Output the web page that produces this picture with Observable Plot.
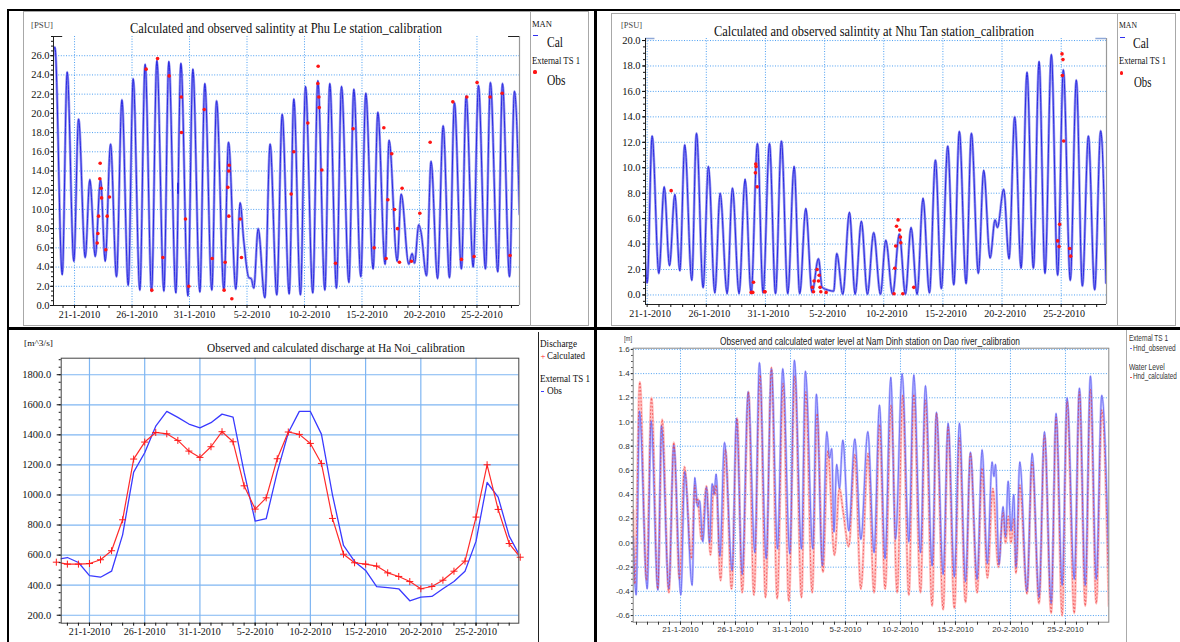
<!DOCTYPE html>
<html>
<head>
<meta charset="utf-8">
<script src="https://cdn.jsdelivr.net/npm/d3@7"></script>
<script src="https://cdn.jsdelivr.net/npm/@observablehq/plot@0.6"></script>
<style>
  html, body { margin: 0; padding: 0; background: #fff; }
  #page { position: relative; width: 1180px; height: 642px; overflow: hidden; background: #fff; }
  .abs { position: absolute; }
  .t { position: absolute; white-space: nowrap; line-height: 1; }
  svg.serif-chart text { font-family: "Liberation Serif", "Times New Roman", serif !important; }
  svg.sans-chart text { font-family: "Liberation Sans", Arial, sans-serif !important; }
</style>
</head>
<body>
<div id="page"></div>
<script>
// All times are in days after 21-1-2010 00:00.

// ---- Phu Le salinity [PSU] ----
const phuLeCalDay = [-1.9, -1.71, -1.07, -0.64, -0.06, 0.35, 0.93, 1.33, 1.80, 2.26, 2.67, 3.13, 3.65, 4.12, 4.67, 5.10, 5.68, 6.14, 6.70, 7.16, 7.77, 8.20, 8.81, 9.25, 9.86, 10.29, 10.90, 11.33, 11.94, 12.35, 12.99, 13.39, 14.03, 14.40, 14.72, 15.16, 15.36, 15.59, 15.97, 16.55, 17.01, 17.59, 18.06, 18.67, 19.07, 19.65, 20.09, 20.72, 21.16, 21.77, 22.20, 22.78, 23.22, 23.86, 24.29, 24.90, 25.33, 25.97, 26.38, 27.01, 27.36, 28.06, 28.41, 29.07, 29.36, 29.57, 29.94, 30.14, 30.61, 31.01, 31.57, 32.06, 32.61, 33.04, 33.65, 34.06, 34.67, 35.13, 35.74, 36.17, 36.81, 37.22, 37.83, 38.26, 38.70];
const phuLeCalPsu = [25.8, 26.9, 3.2, 24.3, 4.6, 19.4, 5.0, 13.1, 5.1, 13.1, 4.6, 16.8, 3.0, 21.4, 2.1, 23.6, 1.6, 25.1, 1.5, 25.5, 1.5, 25.4, 1.3, 25.2, 1.0, 24.6, 1.4, 23.1, 1.6, 21.3, 1.6, 17.0, 1.7, 10.7, 6.7, 2.9, 2.8, 1.8, 8.0, 0.8, 16.8, 1.1, 19.9, 1.2, 21.5, 1.1, 22.8, 1.3, 23.4, 1.6, 23.1, 1.8, 22.8, 2.4, 22.5, 3.0, 22.1, 3.8, 20.1, 4.3, 17.2, 4.6, 11.6, 4.3, 5.4, 4.4, 8.4, 7.6, 3.1, 15.0, 2.8, 18.7, 2.9, 21.1, 3.8, 21.8, 4.0, 22.9, 3.8, 23.2, 3.5, 23.1, 3.0, 22.3, 9.5];
// short detached piece of the calculated record near 30-1-2010
const phuLeCalPieceDay = [9.0, 9.0];
const phuLeCalPiecePsu = [12.7, 11.7];
const phuLeObsDay = [1.97, 2.03, 2.09, 2.23, 2.20, 2.32, 2.35, 2.72, 2.84, 3.04, 6.23, 6.72, 7.22, 7.68, 8.23, 9.28, 9.30, 9.65, 9.94, 11.28, 11.97, 13.01, 13.10, 13.33, 13.42, 13.45, 13.42, 13.68, 14.41, 14.52, 18.84, 19.07, 20.29, 21.19, 21.16, 21.25, 21.28, 21.51, 22.70, 24.23, 26.06, 26.90, 27.10, 27.25, 27.59, 27.83, 28.09, 28.26, 28.49, 29.30, 30.03, 30.93, 32.90, 33.65, 34.12, 34.75, 35.01, 36.14, 37.19, 37.88];
const phuLeObsPsu = [6.5, 7.5, 9.3, 14.8, 13.2, 12.2, 11.2, 5.8, 9.3, 11.3, 24.6, 1.6, 25.7, 5.0, 23.9, 21.7, 18.0, 9.0, 2.0, 20.4, 4.9, 1.6, 4.5, 12.3, 14.0, 14.6, 9.3, 0.7, 9.0, 5.0, 11.6, 16.0, 19.0, 24.9, 23.1, 21.7, 20.6, 14.1, 4.4, 18.4, 6.0, 18.5, 4.9, 11.0, 15.8, 10.0, 8.0, 4.5, 12.2, 4.6, 9.6, 17.0, 21.2, 4.8, 21.7, 5.1, 23.2, 21.7, 22.1, 5.2];

// ---- Nhu Tan salinity [PSU] ----
const nhuTanCalDay = [-0.34, 0.00, 0.42, 0.99, 1.44, 1.89, 2.34, 2.76, 3.18, 3.77, 4.17, 4.73, 5.18, 5.72, 6.17, 6.76, 7.21, 7.77, 8.28, 8.79, 9.32, 9.80, 10.34, 10.85, 11.35, 11.89, 12.42, 12.90, 13.41, 13.94, 14.48, 14.79, 15.35, 15.77, 16.03, 16.54, 17.10, 17.58, 18.11, 18.62, 19.15, 19.72, 20.17, 20.75, 21.32, 21.83, 22.31, 22.82, 23.32, 23.86, 24.37, 24.87, 25.41, 25.92, 26.39, 26.96, 27.41, 28.00, 28.45, 28.99, 29.41, 29.61, 30.14, 30.59, 31.07, 31.61, 32.11, 32.65, 33.13, 33.63, 34.17, 34.70, 35.18, 35.77, 36.28, 36.79, 37.30, 37.83, 38.34, 38.79];
const nhuTanCalPsu = [9.0, 0.94, 12.5, 1.7, 8.5, 2.3, 7.9, 1.9, 11.8, 1.15, 12.7, 0.58, 10.1, 0.16, 8.0, 0.1, 8.4, 0.1, 9.1, 0.1, 11.9, 0.16, 11.9, 0.1, 12.1, 0.1, 10.1, 0.1, 6.8, 0.2, 2.85, 0.6, 0.37, 0.3, 3.25, 0.05, 6.5, 0.05, 5.8, 0.05, 4.9, 0.05, 4.3, 0.05, 4.8, 0.05, 5.3, 0.05, 7.6, 0.16, 10.6, 0.5, 11.7, 0.8, 12.85, 0.9, 12.7, 1.7, 9.8, 2.9, 5.9, 5.3, 8.3, 2.85, 14.0, 2.1, 17.5, 2.1, 18.35, 1.7, 18.9, 1.55, 17.7, 1.15, 16.9, 0.7, 12.5, 0.4, 12.9, 0.94];
const nhuTanObsDay = [2.03, 8.79, 8.93, 8.99, 9.18, 9.21, 9.15, 9.30, 9.92, 9.97, 13.97, 14.06, 14.11, 14.37, 14.54, 14.48, 14.62, 14.68, 15.13, 20.87, 20.93, 21.01, 21.08, 21.21, 21.35, 21.41, 21.44, 21.61, 22.54, 34.70, 34.82, 34.87, 35.07, 35.15, 35.10, 35.21, 35.72, 35.80];
const nhuTanObsPsu = [8.2, 0.2, 0.2, 1.0, 10.3, 10.1, 9.6, 8.5, 0.25, 0.25, 0.6, 0.25, 1.1, 2.0, 1.55, 1.1, 0.6, 0.25, 0.2, 0.1, 2.1, 3.85, 5.4, 5.9, 5.1, 4.55, 4.1, 0.1, 0.6, 4.25, 3.8, 5.55, 18.95, 18.5, 17.25, 12.1, 3.65, 3.05];

// ---- Ha Noi discharge [m^3/s], daily 18-1-2010 .. 1-3-2010 ----
const haNoiDay = [-3, -2, -1, 0, 1, 2, 3, 4, 5, 6, 7, 8, 9, 10, 11, 12, 13, 14, 15, 16, 17, 18, 19, 20, 21, 22, 23, 24, 25, 26, 27, 28, 29, 30, 31, 32, 33, 34, 35, 36, 37, 38, 39];
const haNoiCalculated = [553, 540, 540, 544, 569, 629, 835, 1239, 1352, 1416, 1407, 1363, 1292, 1250, 1321, 1421, 1354, 1061, 906, 981, 1241, 1419, 1403, 1343, 1210, 844, 606, 549, 540, 527, 482, 458, 424, 376, 391, 433, 493, 560, 853, 1201, 904, 677, 586];
const haNoiObserved = [570, 584, 551, 464, 453, 493, 735, 1152, 1281, 1458, 1556, 1516, 1472, 1447, 1481, 1538, 1518, 1152, 826, 842, 1152, 1414, 1556, 1556, 1405, 1001, 664, 558, 498, 391, 384, 376, 296, 320, 325, 376, 424, 493, 693, 1083, 986, 726, 590];

// ---- Nam Dinh water level [m] ----
const namDinhObsDay = [-4.30, -4.03, -3.73, -3.03, -2.67, -2.06, -1.73, -1.06, -0.61, 0.03, 0.39, 1.06, 1.30, 1.55, 1.73, 2.03, 2.36, 2.64, 2.88, 3.05, 3.24, 3.58, 4.00, 4.70, 5.09, 5.61, 6.15, 6.76, 7.18, 7.79, 8.27, 8.82, 9.30, 9.94, 10.36, 11.00, 11.36, 12.03, 12.36, 12.90, 13.30, 13.55, 13.75, 13.95, 14.20, 14.45, 14.76, 15.30, 15.85, 16.40, 17.03, 17.60, 18.09, 18.60, 19.12, 19.55, 20.15, 20.76, 21.21, 21.82, 22.27, 22.88, 23.27, 23.88, 24.33, 24.90, 25.36, 25.91, 26.36, 26.97, 27.42, 27.90, 28.33, 28.50, 28.64, 28.95, 29.33, 29.55, 29.79, 30.05, 30.30, 30.50, 30.85, 31.50, 31.97, 32.60, 33.09, 33.70, 34.15, 34.70, 35.15, 35.80, 36.27, 36.80, 37.27, 37.80, 38.30, 38.94];
const namDinhObsM = [0.05, -0.43, 1.09, -0.38, 1.01, -0.39, 0.97, -0.38, 0.81, -0.43, 0.59, -0.35, 0.54, 0.30, 0.35, 0.01, 0.46, 0.00, 0.49, 0.40, 0.57, -0.11, 0.83, -0.23, 1.03, -0.26, 1.25, -0.08, 1.49, -0.13, 1.44, -0.05, 1.44, -0.09, 1.51, -0.05, 1.42, -0.05, 1.23, -0.19, 0.92, 0.70, 0.78, 0.09, 0.65, 0.45, 0.85, 0.10, 0.86, 0.03, 0.92, -0.08, 1.14, -0.13, 1.37, 0.03, 1.40, 0.01, 1.39, -0.08, 1.30, -0.19, 1.08, -0.26, 0.99, -0.28, 0.99, -0.32, 0.75, -0.30, 0.77, -0.17, 0.67, 0.55, 0.65, -0.18, 0.30, 0.05, 0.51, 0.10, 0.40, -0.20, 0.67, -0.40, 0.74, -0.45, 0.92, -0.50, 1.07, -0.35, 1.20, -0.30, 1.28, -0.35, 1.38, -0.30, 1.22, -0.20];
const namDinhCalDay = [-4.30, -4.15, -3.70, -3.09, -2.64, -2.06, -1.67, -1.06, -0.61, -0.09, 0.36, 1.00, 1.30, 1.45, 1.55, 1.91, 2.36, 2.73, 3.00, 3.15, 3.24, 3.64, 4.09, 4.64, 5.15, 5.61, 6.18, 6.67, 7.24, 7.73, 8.27, 8.79, 9.33, 9.85, 10.39, 11.00, 11.39, 11.97, 12.42, 12.95, 13.39, 14.00, 14.45, 14.80, 15.30, 15.85, 16.40, 17.05, 17.60, 18.10, 18.60, 19.15, 19.70, 20.20, 20.76, 21.21, 21.82, 22.27, 22.88, 23.27, 23.88, 24.33, 24.90, 25.36, 25.91, 26.36, 26.97, 27.42, 27.90, 28.40, 28.90, 29.33, 29.55, 29.80, 30.05, 30.30, 30.50, 30.85, 31.50, 31.97, 32.60, 33.09, 33.70, 34.15, 34.70, 35.15, 35.80, 36.27, 36.80, 37.27, 37.80, 38.30, 38.94];
const namDinhCalM = [0.27, -0.34, 1.33, -0.31, 1.20, -0.38, 1.02, -0.41, 0.83, -0.30, 0.63, -0.13, 0.48, 0.33, 0.37, 0.03, 0.47, -0.10, 0.47, 0.40, 0.48, -0.31, 0.77, -0.38, 1.03, -0.41, 1.25, -0.43, 1.39, -0.45, 1.45, -0.46, 1.32, -0.48, 1.38, -0.45, 1.25, -0.41, 1.07, -0.24, 0.76, -0.10, 0.45, 0.25, -0.03, 0.73, -0.38, 0.74, -0.41, 0.98, -0.38, 1.14, -0.41, 1.22, -0.43, 1.23, -0.41, 1.18, -0.52, 1.07, -0.55, 0.96, -0.54, 0.87, -0.49, 0.74, -0.41, 0.62, -0.29, 0.45, -0.20, 0.25, 0.00, 0.22, 0.00, 0.20, -0.25, 0.48, -0.42, 0.67, -0.50, 0.89, -0.58, 1.04, -0.60, 1.17, -0.58, 1.25, -0.52, 1.27, -0.50, 1.10, -0.52];

// Labelled date ticks (days after 21-1-2010)
const labelTickDays = [0, 5, 10, 15, 20, 25, 30, 35];

// ---------------------------------------------------------------------------
const page = document.getElementById("page");
const DAY0 = Date.UTC(2010, 0, 21);
const toDate = d => new Date(DAY0 + d * 864e5);
const series = (days, vals) => days.map((d, i) => ({t: toDate(d), v: vals[i]}));
const fmtDate = d3.utcFormat("%-d-%-m-%Y");
const labelTicks = labelTickDays.map(toDate);
const dailyTicks = (a, b) => d3.utcDay.range(toDate(a), toDate(b));

const SERIF = "Liberation Serif";
const SANS = "Liberation Sans";

function box(x, y, w, h, color) {
  const e = document.createElement("div");
  e.className = "abs";
  Object.assign(e.style, {left: x + "px", top: y + "px", width: w + "px", height: h + "px", background: color});
  page.appendChild(e);
  return e;
}
function frameBox(x, y, w, h, color, bw) {
  const e = document.createElement("div");
  e.className = "abs";
  Object.assign(e.style, {left: x + "px", top: y + "px", width: w + "px", height: h + "px",
    border: `${bw}px solid ${color}`, boxSizing: "border-box"});
  page.appendChild(e);
}
function dot(x, y, r, color) {
  const e = box(x - r, y - r, 2 * r, 2 * r, color);
  e.style.borderRadius = "50%";
}
// text placed by left/centre/right edge and vertical centre, optionally squeezed to a width
function label(text, {x, y, size, font = SERIF, color = "#111", anchor = "start", width = null}) {
  const e = document.createElement("span");
  e.className = "t";
  e.textContent = text;
  Object.assign(e.style, {fontSize: size + "px", fontFamily: `"${font}"`, color});
  page.appendChild(e);
  const r = e.getBoundingClientRect();
  const k = width ? width / r.width : 1;
  const w = r.width * k;
  const left = anchor === "middle" ? x - w / 2 : anchor === "end" ? x - w : x;
  Object.assign(e.style, {left: left + "px", top: (y - r.height / 2) + "px",
    transformOrigin: "0 50%", transform: `scaleX(${k})`});
}
function mount(svg, x, y, cls) {
  svg.classList.add(cls);
  svg.style.position = "absolute";
  svg.style.left = x + "px";
  svg.style.top = y + "px";
  page.appendChild(svg);
}

const dottedGrid = {stroke: "#2f8ff0", strokeOpacity: 0.85, strokeWidth: 1, strokeDasharray: "1,1.6"};
const baseStyle = {fontSize: "10px", color: "#111", background: "transparent", overflow: "visible"};

// ---------------- Phu Le ----------------
{
  const x0 = -1.83, x1 = 38.7;
  const cal = series(phuLeCalDay, phuLeCalPsu);
  const piece = series(phuLeCalPieceDay, phuLeCalPiecePsu);
  const obs = series(phuLeObsDay, phuLeObsPsu);
  mount(Plot.plot({
    width: 507, height: 314, marginLeft: 30, marginRight: 11, marginTop: 25, marginBottom: 20,
    style: baseStyle,
    x: {type: "utc", domain: [toDate(x0), toDate(x1)], label: null},
    y: {domain: [0, 28], label: null},
    marks: [
      Plot.gridY(d3.range(2, 27, 2), dottedGrid),
      Plot.gridX(labelTicks, dottedGrid),
      Plot.line(cal, {x: "t", y: "v", curve: "monotone-x", stroke: "#9898f0", strokeWidth: 2.6, clip: true}),
      Plot.line(cal, {x: "t", y: "v", curve: "monotone-x", stroke: "#2a2ae2", strokeWidth: 1, clip: true}),
      Plot.line(piece, {x: "t", y: "v", stroke: "#2a2ae2", strokeWidth: 2}),
      Plot.dot(obs, {x: "t", y: "v", r: 1.8, fill: "#ff1414"}),
      Plot.ruleX([toDate(x1)], {stroke: "#999", strokeWidth: 1.2}),
      Plot.ruleY([28], {x1: toDate(x0), x2: toDate(x0 + 0.8), stroke: "#222"}),
      Plot.ruleY([28], {x1: toDate(x1 - 0.95), x2: toDate(x1), stroke: "#222"}),
      Plot.ruleY([0], {stroke: "#222"}),
      Plot.ruleX([toDate(x0)], {stroke: "#222"}),
      Plot.axisY(d3.range(0, 27, 2), {tickSize: 3, tickPadding: 1, tickFormat: d => d.toFixed(1), label: null, fontSize: 10.5}),
      Plot.axisY(d3.range(0, 28.01, 0.5), {tickSize: 2, tickFormat: () => "", label: null}),
      Plot.axisX(dailyTicks(x0, x1), {tickSize: 3, tickFormat: () => "", label: null}),
      Plot.text(labelTicks, {x: d => d, text: d => fmtDate(d), frameAnchor: "bottom", lineAnchor: "top", dy: 5, dx: 5, fontSize: 10})
    ]
  }), 23, 11, "serif-chart");
}

// ---------------- Nhu Tan ----------------
{
  const x0 = -0.14, x1 = 38.83;
  const cal = series(nhuTanCalDay, nhuTanCalPsu);
  const obs = series(nhuTanObsDay, nhuTanObsPsu);
  mount(Plot.plot({
    width: 506, height: 312, marginLeft: 34, marginRight: 11, marginTop: 25, marginBottom: 21,
    style: baseStyle,
    x: {type: "utc", domain: [toDate(x0), toDate(x1)], label: null},
    y: {domain: [-0.75, 20.16], label: null},
    marks: [
      Plot.gridY(d3.range(0, 20.1, 2), dottedGrid),
      Plot.gridX(labelTicks, dottedGrid),
      Plot.line(cal, {x: "t", y: "v", curve: "monotone-x", stroke: "#9898f0", strokeWidth: 2.6, clip: true}),
      Plot.line(cal, {x: "t", y: "v", curve: "monotone-x", stroke: "#2a2ae2", strokeWidth: 1, clip: true}),
      Plot.dot(obs, {x: "t", y: "v", r: 1.8, fill: "#ff1414"}),
      Plot.ruleX([toDate(x1)], {stroke: "#999", strokeWidth: 1.2}),
      Plot.ruleY([20.16], {x1: toDate(x0), x2: toDate(x0 + 0.8), stroke: "#8fa8d8", strokeWidth: 1.5}),
      Plot.ruleY([20.16], {x1: toDate(x1 - 0.9), x2: toDate(x1), stroke: "#8fa8d8", strokeWidth: 1.5}),
      Plot.ruleY([-0.75], {stroke: "#222"}),
      Plot.ruleX([toDate(x0)], {stroke: "#222"}),
      Plot.axisY(d3.range(0, 20.1, 2), {tickSize: 3, tickPadding: 2, tickFormat: d => d.toFixed(1), label: null, fontSize: 10.5}),
      Plot.axisY(d3.range(-0.5, 20.01, 0.5), {tickSize: 2, tickFormat: () => "", label: null}),
      Plot.axisX(dailyTicks(x0, x1), {tickSize: 3, tickFormat: () => "", label: null}),
      Plot.text(labelTicks, {x: d => d, text: d => fmtDate(d), frameAnchor: "bottom", lineAnchor: "top", dy: 5, dx: 3, fontSize: 10})
    ]
  }), 611, 13, "serif-chart");
}

// ---------------- Ha Noi ----------------
{
  const x0 = -2.56, x1 = 38.87;
  const calc = series(haNoiDay, haNoiCalculated);
  const obs = series(haNoiDay, haNoiObserved);
  const solidGrid = {stroke: "#7fb6f2", strokeOpacity: 1, strokeWidth: 1.2};
  mount(Plot.plot({
    width: 529, height: 312, marginLeft: 51.7, marginRight: 19.7, marginTop: 27.7, marginBottom: 19.3,
    style: baseStyle,
    x: {type: "utc", domain: [toDate(x0), toDate(x1)], label: null},
    y: {domain: [147, 1910], label: null},
    marks: [
      Plot.gridY(d3.range(200, 1801, 200), solidGrid),
      Plot.gridX(labelTicks, solidGrid),
      Plot.line(obs, {x: "t", y: "v", stroke: "#3a3aff", strokeWidth: 1.3, clip: true}),
      Plot.line(calc, {x: "t", y: "v", stroke: "#ff2a2a", strokeWidth: 1.2, clip: true}),
      Plot.dot(calc, {x: "t", y: "v", symbol: "plus", r: 2.4, stroke: "#ff1a1a", strokeWidth: 1}),
      Plot.frame({stroke: "#444"}),
      Plot.axisY(d3.range(200, 1801, 200), {tickSize: 4, tickPadding: 6, tickFormat: d => d.toFixed(1), label: null, fontSize: 10.5}),
      Plot.axisY(d3.range(150, 1901, 50), {tickSize: 2, tickFormat: () => "", label: null}),
      Plot.axisX(dailyTicks(x0, x1), {tickSize: 3, tickFormat: () => "", label: null}),
      Plot.axisX(labelTicks, {tickSize: 3, tickPadding: 2, tickFormat: fmtDate, label: null, fontSize: 10})
    ]
  }), 9, 330, "serif-chart");
}

// ---------------- Nam Dinh ----------------
{
  const x0 = -4.3, x1 = 38.94;
  const obs = series(namDinhObsDay, namDinhObsM);
  const calc = series(namDinhCalDay, namDinhCalM);
  const yTicks = d3.range(-6, 17, 2).map(v => v / 10);
  mount(Plot.plot({
    width: 528.5, height: 312, marginLeft: 34.7, marginRight: 18.2, marginTop: 17.7, marginBottom: 20.3,
    style: {...baseStyle, fontSize: "8px", color: "#333"},
    x: {type: "utc", domain: [toDate(x0), toDate(x1)], label: null},
    y: {domain: [-0.655, 1.61], label: null},
    marks: [
      Plot.gridY(yTicks, dottedGrid),
      Plot.gridX(labelTicks, dottedGrid),
      Plot.line(calc, {x: "t", y: "v", curve: "monotone-x", stroke: "#ffc0c0", strokeWidth: 2.6, clip: true}),
      Plot.line(obs, {x: "t", y: "v", curve: "monotone-x", stroke: "#b0b0ff", strokeWidth: 2.4, strokeOpacity: 0.8, clip: true}),
      Plot.line(obs, {x: "t", y: "v", curve: "monotone-x", stroke: "#6262f2", strokeWidth: 0.8, clip: true}),
      Plot.line(calc, {x: "t", y: "v", curve: "monotone-x", stroke: "#f03a3a", strokeWidth: 0.75, strokeDasharray: "1,2.6", clip: true}),
      Plot.frame({stroke: "#888"}),
      Plot.axisY(yTicks, {tickSize: 2, tickPadding: 1.5, tickFormat: d => d.toFixed(1), label: null, fontSize: 8}),
      Plot.axisY(d3.range(-13, 33).map(v => v / 20), {tickSize: 1.5, tickFormat: () => "", label: null}),
      Plot.axisX(dailyTicks(x0, x1), {tickSize: 3, tickFormat: () => "", label: null}),
      Plot.axisX(labelTicks, {tickSize: 3, tickPadding: 1.5, tickFormat: fmtDate, label: null, fontSize: 8})
    ]
  }), 598, 330, "sans-chart");
}

// ---------------- frames, titles, legends ----------------
frameBox(23, 11, 566, 315, "#a8a8a8", 1.5);
box(529.5, 11, 1.5, 315, "#a8a8a8");
frameBox(611, 13, 565, 312.5, "#a8a8a8", 1.5);
box(1116.5, 13, 1.5, 312, "#a8a8a8");
box(538, 332, 1, 310, "#222");
box(1126, 329, 1.2, 313, "#aaa");

// table rules
box(7, 9, 1173, 2, "#000");
box(7, 9, 2, 633, "#000");
box(594, 9, 3, 633, "#000");
box(7, 327, 1173, 2.5, "#000");

// Phu Le
label("Calculated and observed salintity at Phu Le station_calibration", {x: 285.5, y: 28.5, size: 15, anchor: "middle", width: 312});
label("[PSU]", {x: 31, y: 25, size: 9, width: 22, color: "#444"});
label("MAN", {x: 532, y: 24, size: 9, width: 20});
box(533, 34.5, 5, 1.8, "#3030f0");
label("Cal", {x: 547, y: 42, size: 15, width: 16});
label("External TS 1", {x: 532, y: 61, size: 10, width: 48});
dot(535, 72, 1.6, "#ff1414");
label("Obs", {x: 547, y: 80, size: 15, width: 18.5});

// Nhu Tan
label("Calculated and observed salintity at Nhu Tan station_calibration", {x: 874, y: 31.7, size: 15, anchor: "middle", width: 320});
label("[PSU]", {x: 621, y: 25.5, size: 9, width: 21, color: "#444"});
label("MAN", {x: 1119, y: 25, size: 9, width: 18});
box(1120, 36.5, 5, 1.8, "#3030f0");
label("Cal", {x: 1133, y: 43, size: 15, width: 16});
label("External TS 1", {x: 1119, y: 61, size: 10, width: 47});
dot(1121.5, 73, 1.6, "#ff1414");
label("Obs", {x: 1134, y: 82, size: 15, width: 17.5});

// Ha Noi
label("Observed and calculated discharge at Ha Noi_calibration", {x: 335.5, y: 347.3, size: 13, anchor: "middle", width: 258});
label("[m^3/s]", {x: 24, y: 343, size: 9, width: 29});
label("Discharge", {x: 540, y: 344, size: 10, width: 37});
label("+", {x: 540.5, y: 356, size: 9, color: "#ff1a1a"});
label("Calculated", {x: 546.5, y: 356, size: 10, width: 38});
label("External TS 1", {x: 540, y: 379, size: 10, width: 50});
box(540.5, 390.5, 3, 1.2, "#3a3aff");
label("Obs", {x: 546.5, y: 391, size: 10, width: 15});

// Nam Dinh
label("Observed and calculated water level at Nam Dinh station on Dao river_calibration", {x: 870, y: 341, size: 11, font: SANS, anchor: "middle", width: 300, color: "#222"});
label("[m]", {x: 624.3, y: 339, size: 8, font: SANS, width: 8, color: "#333"});
label("External TS 1", {x: 1129, y: 338.3, size: 8.5, font: SANS, width: 39, color: "#333"});
box(1129.5, 348, 2.5, 1, "#6f6ff5");
label("Hnd_observed", {x: 1133, y: 348.3, size: 8.5, font: SANS, width: 42.7, color: "#333"});
label("Water Level", {x: 1129, y: 367, size: 8.5, font: SANS, width: 35.7, color: "#333"});
box(1129.5, 376.5, 2.5, 1, "#f05050");
label("Hnd_calculated", {x: 1133, y: 376.7, size: 8.5, font: SANS, width: 43.7, color: "#333"});
</script>
</body>
</html>
